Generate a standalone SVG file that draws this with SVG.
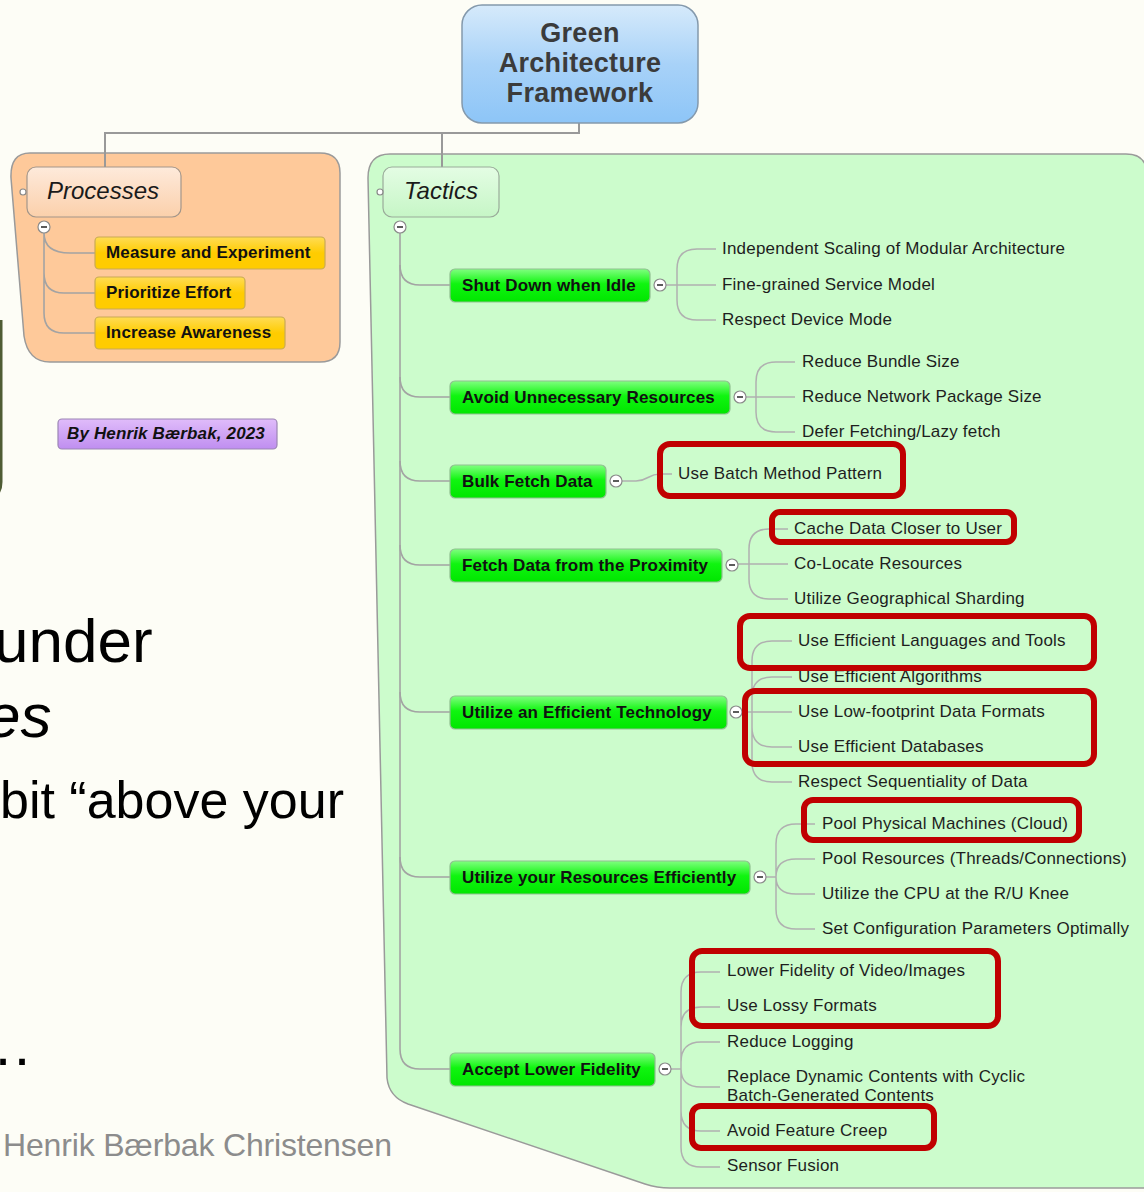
<svg xmlns="http://www.w3.org/2000/svg" width="1144" height="1192" viewBox="0 0 1144 1192">
  <style>
    .bg { fill: #fdfdf6; }
    .link { fill: none; stroke: #999999; stroke-width: 2; }
    .trunk { fill: none; stroke: #a3a3a3; stroke-width: 1.6; }
    .leafline { fill: none; stroke: #b0b0b0; stroke-width: 1.5; }
    .rootText { font-family: "Liberation Sans", Arial, sans-serif; font-weight: bold; font-size: 27px; fill: #3b3b3b; text-anchor: middle; letter-spacing: 0.3px; }
    .groupTitle { font-family: "Liberation Sans", Arial, sans-serif; font-style: italic; font-size: 24px; fill: #1a1a1a; text-anchor: middle; }
    .topic { font-family: "Liberation Sans", Arial, sans-serif; font-weight: bold; font-size: 17px; fill: #111111; letter-spacing: 0.15px; }
    .leaf { font-family: "Liberation Sans", Arial, sans-serif; font-size: 17px; fill: #1e1e1e; letter-spacing: 0.2px; }
    .greenBox { fill: url(#gGreen); stroke: #8fbf8f; stroke-width: 1.2; }
    .yellowBox { fill: url(#gYellow); stroke: #c9aa55; stroke-width: 1.2; }
    .toggle { fill: #ffffff; stroke: #8a8a8a; stroke-width: 1.2; }
    .minus { stroke: #333333; stroke-width: 1.6; }
    .hl { fill: none; stroke: #c00000; stroke-width: 6; }
    .slide { font-family: "Liberation Sans", Arial, sans-serif; fill: #000000; }
    .footer { font-family: "Liberation Sans", Arial, sans-serif; font-size: 32px; fill: #8c8c8c; }
  </style>
  <defs>
    <linearGradient id="gRoot" x1="0" y1="0" x2="0" y2="1">
      <stop offset="0" stop-color="#d6eafb"/>
      <stop offset="0.5" stop-color="#a8d2f8"/>
      <stop offset="1" stop-color="#8dc5f7"/>
    </linearGradient>
    <linearGradient id="gGreen" x1="0" y1="0" x2="0" y2="1">
      <stop offset="0" stop-color="#80ff80"/>
      <stop offset="0.45" stop-color="#10f510"/>
      <stop offset="1" stop-color="#00e600"/>
    </linearGradient>
    <linearGradient id="gYellow" x1="0" y1="0" x2="0" y2="1">
      <stop offset="0" stop-color="#ffdc55"/>
      <stop offset="0.5" stop-color="#ffcc00"/>
      <stop offset="1" stop-color="#ffcc00"/>
    </linearGradient>
    <linearGradient id="gProc" x1="0" y1="0" x2="0" y2="1">
      <stop offset="0" stop-color="#feeadb"/>
      <stop offset="1" stop-color="#fbd0ab"/>
    </linearGradient>
    <linearGradient id="gTact" x1="0" y1="0" x2="0" y2="1">
      <stop offset="0" stop-color="#e4fde4"/>
      <stop offset="1" stop-color="#c6f6c6"/>
    </linearGradient>
    <linearGradient id="gPurple" x1="0" y1="0" x2="0" y2="1">
      <stop offset="0" stop-color="#e0bcfa"/>
      <stop offset="1" stop-color="#bf8ef0"/>
    </linearGradient>
  </defs>

  <rect class="bg" x="0" y="0" width="1144" height="1192"/>

  <!-- slide content behind the map -->
  <path d="M1,320 L1,482 Q1,489 -2,493" fill="none" stroke="#4f5c34" stroke-width="3"/>
  <text class="slide" x="-6" y="662" font-size="62">under</text>
  <text class="slide" x="-14" y="737" font-size="62" font-style="italic">es</text>
  <text class="slide" x="0" y="818" font-size="52">bit “above your</text>
  <text class="slide" x="-27" y="1065" font-size="60">…</text>
  <text class="footer" x="3" y="1156" textLength="389">Henrik Bærbak Christensen</text>
  <text class="footer" x="1005" y="1156">20</text>

  <!-- group backgrounds -->
  <path id="processes-area" d="M30,153 L320,153 Q340,153 340,173 L340,342 Q340,362 320,362 L50,362 Q28,362 24,336 L11,178 Q10,153 30,153 Z" fill="#fec99a" stroke="#9a9a9a" stroke-width="1.5"/>
  <path id="tactics-area" d="M390,154 L1126,154 Q1147,154 1147,175 L1147,1188 L670,1188 Q657,1188 645,1184 L408,1104 Q389,1097 387,1078 L368,178 Q368,154 390,154 Z" fill="#ccfccc" stroke="#9a9a9a" stroke-width="1.5"/>

  <!-- connectors -->
  <g id="connectors">
    <path class="link" d="M579,123 L579,133 L105,133 L105,168 M442,133 L442,167"/>

    <path class="trunk" d="M44,233 C44,248 55,253 70,253 L95,253 M44,233 L44,273 Q44,293 64,293 L95,293 M44,233 L44,313 Q44,333 64,333 L95,333"/>

    <path class="trunk" d="M400,233 L400,1049"/>
    <path class="trunk" d="M400,265 Q400,285 420,285 L450,285"/>
    <path class="trunk" d="M400,377 Q400,397 420,397 L450,397"/>
    <path class="trunk" d="M400,461 Q400,481 420,481 L450,481"/>
    <path class="trunk" d="M400,545 Q400,565 420,565 L450,565"/>
    <path class="trunk" d="M400,692 Q400,712 420,712 L450,712"/>
    <path class="trunk" d="M400,857 Q400,877 420,877 L450,877"/>
    <path class="trunk" d="M400,1049 Q400,1069 420,1069 L450,1069"/>

    <!-- Shut Down when Idle -->
    <path class="leafline" d="M666,285 L716,285 M677,285 L677,269 Q677,249 697,249 L716,249 M677,285 L677,300 Q677,320 697,320 L716,320"/>
    <!-- Avoid Unnecessary Resources -->
    <path class="leafline" d="M746,397 L795,397 M756,397 L756,382 Q756,362 776,362 L795,362 M756,397 L756,412 Q756,432 776,432 L795,432"/>
    <!-- Bulk Fetch Data -->
    <path class="leafline" d="M622,481 L636,481 C648,481 648,474 660,474 L672,474"/>
    <!-- Fetch Data from the Proximity -->
    <path class="leafline" d="M738,564 L788,564 M749,564 L749,549 Q749,529 769,529 L788,529 M749,564 L749,579 Q749,599 769,599 L788,599"/>
    <!-- Utilize an Efficient Technology -->
    <path class="leafline" d="M742,712 L792,712 M752,712 L752,661 Q752,641 772,641 L792,641 M752,712 L752,697 Q752,677 772,677 L792,677 M752,712 L752,727 Q752,747 772,747 L792,747 M752,712 L752,762 Q752,782 772,782 L792,782"/>
    <!-- Utilize your Resources Efficiently -->
    <path class="leafline" d="M766,877 L776,877 M776,877 L776,844 Q776,824 796,824 L815,824 M776,877 Q776,859 796,859 L815,859 M776,877 Q776,894 796,894 L815,894 M776,877 L776,909 Q776,929 796,929 L815,929"/>
    <!-- Accept Lower Fidelity -->
    <path class="leafline" d="M671,1069 L681,1069 M681,1069 L681,992 Q681,972 701,972 L720,972 M681,1069 L681,1027 Q681,1007 701,1007 L720,1007 M681,1069 L681,1062 Q681,1042 701,1042 L720,1042 M681,1069 Q681,1087 701,1087 L720,1087 M681,1069 L681,1111 Q681,1131 701,1131 L720,1131 M681,1069 L681,1147 Q681,1167 701,1167 L720,1167"/>
  </g>

  <!-- central topic -->
  <g id="root">
    <rect x="462" y="5" width="236" height="118" rx="20" fill="url(#gRoot)" stroke="#8499ac" stroke-width="1.5"/>
    <text class="rootText" x="580" y="42">Green</text>
    <text class="rootText" x="580" y="72">Architecture</text>
    <text class="rootText" x="580" y="102">Framework</text>
  </g>

  <!-- Processes branch -->
  <g id="processes">
    <rect x="27" y="167" width="154" height="50" rx="9" fill="url(#gProc)" stroke="#a3968a" stroke-width="1.2"/>
    <circle cx="23" cy="192" r="3" class="toggle"/>
    <text class="groupTitle" x="103" y="199">Processes</text>
    <circle cx="44" cy="227" r="6" class="toggle"/>
    <line x1="41" y1="227" x2="47" y2="227" class="minus"/>
  </g>
  <g id="measure-and-experiment">
    <rect class="yellowBox" x="95" y="237" width="230" height="32" rx="4"/>
    <text class="topic" x="106" y="258">Measure and Experiment</text>
  </g>
  <g id="prioritize-effort">
    <rect class="yellowBox" x="95" y="277" width="150" height="32" rx="4"/>
    <text class="topic" x="106" y="298">Prioritize Effort</text>
  </g>
  <g id="increase-awareness">
    <rect class="yellowBox" x="95" y="317" width="190" height="32" rx="4"/>
    <text class="topic" x="106" y="338">Increase Awareness</text>
  </g>

  <g id="author">
    <rect x="58" y="419" width="219" height="30" rx="4" fill="url(#gPurple)" stroke="#9c86b4" stroke-width="1.2"/>
    <text class="topic" x="67" y="439" font-style="italic">By Henrik Bærbak, 2023</text>
  </g>

  <!-- Tactics branch -->
  <g id="tactics">
    <rect x="383" y="167" width="116" height="50" rx="9" fill="url(#gTact)" stroke="#9aab9a" stroke-width="1.2"/>
    <circle cx="380" cy="192" r="3" class="toggle"/>
    <text class="groupTitle" x="441" y="199">Tactics</text>
    <circle cx="400" cy="227" r="6" class="toggle"/>
    <line x1="397" y1="227" x2="403" y2="227" class="minus"/>
  </g>

  <g id="shut-down-when-idle">
    <rect class="greenBox" x="450" y="269" width="200" height="33" rx="5"/>
    <text class="topic" x="462" y="291">Shut Down when Idle</text>
    <circle cx="660" cy="285" r="6" class="toggle"/>
    <line x1="657" y1="285" x2="663" y2="285" class="minus"/>
  </g>
  <g id="avoid-unnecessary-resources">
    <rect class="greenBox" x="450" y="381" width="280" height="33" rx="5"/>
    <text class="topic" x="462" y="403">Avoid Unnecessary Resources</text>
    <circle cx="740" cy="397" r="6" class="toggle"/>
    <line x1="737" y1="397" x2="743" y2="397" class="minus"/>
  </g>
  <g id="bulk-fetch-data">
    <rect class="greenBox" x="450" y="465" width="156" height="33" rx="5"/>
    <text class="topic" x="462" y="487">Bulk Fetch Data</text>
    <circle cx="616" cy="481" r="6" class="toggle"/>
    <line x1="613" y1="481" x2="619" y2="481" class="minus"/>
  </g>
  <g id="fetch-data-from-the-proximity">
    <rect class="greenBox" x="450" y="549" width="272" height="33" rx="5"/>
    <text class="topic" x="462" y="571">Fetch Data from the Proximity</text>
    <circle cx="732" cy="565" r="6" class="toggle"/>
    <line x1="729" y1="565" x2="735" y2="565" class="minus"/>
  </g>
  <g id="utilize-an-efficient-technology">
    <rect class="greenBox" x="450" y="696" width="277" height="33" rx="5"/>
    <text class="topic" x="462" y="718">Utilize an Efficient Technology</text>
    <circle cx="736" cy="712" r="6" class="toggle"/>
    <line x1="733" y1="712" x2="739" y2="712" class="minus"/>
  </g>
  <g id="utilize-your-resources-efficiently">
    <rect class="greenBox" x="450" y="861" width="300" height="33" rx="5"/>
    <text class="topic" x="462" y="883">Utilize your Resources Efficiently</text>
    <circle cx="760" cy="877" r="6" class="toggle"/>
    <line x1="757" y1="877" x2="763" y2="877" class="minus"/>
  </g>
  <g id="accept-lower-fidelity">
    <rect class="greenBox" x="450" y="1053" width="205" height="33" rx="5"/>
    <text class="topic" x="462" y="1075">Accept Lower Fidelity</text>
    <circle cx="665" cy="1069" r="6" class="toggle"/>
    <line x1="662" y1="1069" x2="668" y2="1069" class="minus"/>
  </g>

  <!-- leaf tactics -->
  <g id="leaves-shut-down">
    <text class="leaf" x="722" y="254">Independent Scaling of Modular Architecture</text>
    <text class="leaf" x="722" y="290">Fine-grained Service Model</text>
    <text class="leaf" x="722" y="325">Respect Device Mode</text>
  </g>
  <g id="leaves-avoid">
    <text class="leaf" x="802" y="367">Reduce Bundle Size</text>
    <text class="leaf" x="802" y="402">Reduce Network Package Size</text>
    <text class="leaf" x="802" y="437">Defer Fetching/Lazy fetch</text>
  </g>
  <g id="leaves-bulk">
    <text class="leaf" x="678" y="479">Use Batch Method Pattern</text>
  </g>
  <g id="leaves-fetch">
    <text class="leaf" x="794" y="534">Cache Data Closer to User</text>
    <text class="leaf" x="794" y="569">Co-Locate Resources</text>
    <text class="leaf" x="794" y="604">Utilize Geographical Sharding</text>
  </g>
  <g id="leaves-technology">
    <text class="leaf" x="798" y="646">Use Efficient Languages and Tools</text>
    <text class="leaf" x="798" y="682">Use Efficient Algorithms</text>
    <text class="leaf" x="798" y="717">Use Low-footprint Data Formats</text>
    <text class="leaf" x="798" y="752">Use Efficient Databases</text>
    <text class="leaf" x="798" y="787">Respect Sequentiality of Data</text>
  </g>
  <g id="leaves-resources">
    <text class="leaf" x="822" y="829">Pool Physical Machines (Cloud)</text>
    <text class="leaf" x="822" y="864">Pool Resources (Threads/Connections)</text>
    <text class="leaf" x="822" y="899">Utilize the CPU at the R/U Knee</text>
    <text class="leaf" x="822" y="934">Set Configuration Parameters Optimally</text>
  </g>
  <g id="leaves-fidelity">
    <text class="leaf" x="727" y="976">Lower Fidelity of Video/Images</text>
    <text class="leaf" x="727" y="1011">Use Lossy Formats</text>
    <text class="leaf" x="727" y="1047">Reduce Logging</text>
    <text class="leaf" x="727" y="1082">Replace Dynamic Contents with Cyclic</text>
    <text class="leaf" x="727" y="1101">Batch-Generated Contents</text>
    <text class="leaf" x="727" y="1136">Avoid Feature Creep</text>
    <text class="leaf" x="727" y="1171">Sensor Fusion</text>
  </g>

  <!-- emphasis frames -->
  <g id="highlights">
    <rect class="hl" x="660" y="444" width="243" height="52" rx="10"/>
    <rect class="hl" x="772" y="512" width="242" height="30" rx="8"/>
    <rect class="hl" x="740" y="616" width="354" height="52" rx="10"/>
    <rect class="hl" x="745" y="691" width="349" height="73" rx="10"/>
    <rect class="hl" x="804" y="800" width="275" height="40" rx="9"/>
    <rect class="hl" x="692" y="951" width="306" height="75" rx="10"/>
    <rect class="hl" x="692" y="1106" width="242" height="42" rx="9"/>
  </g>
</svg>
